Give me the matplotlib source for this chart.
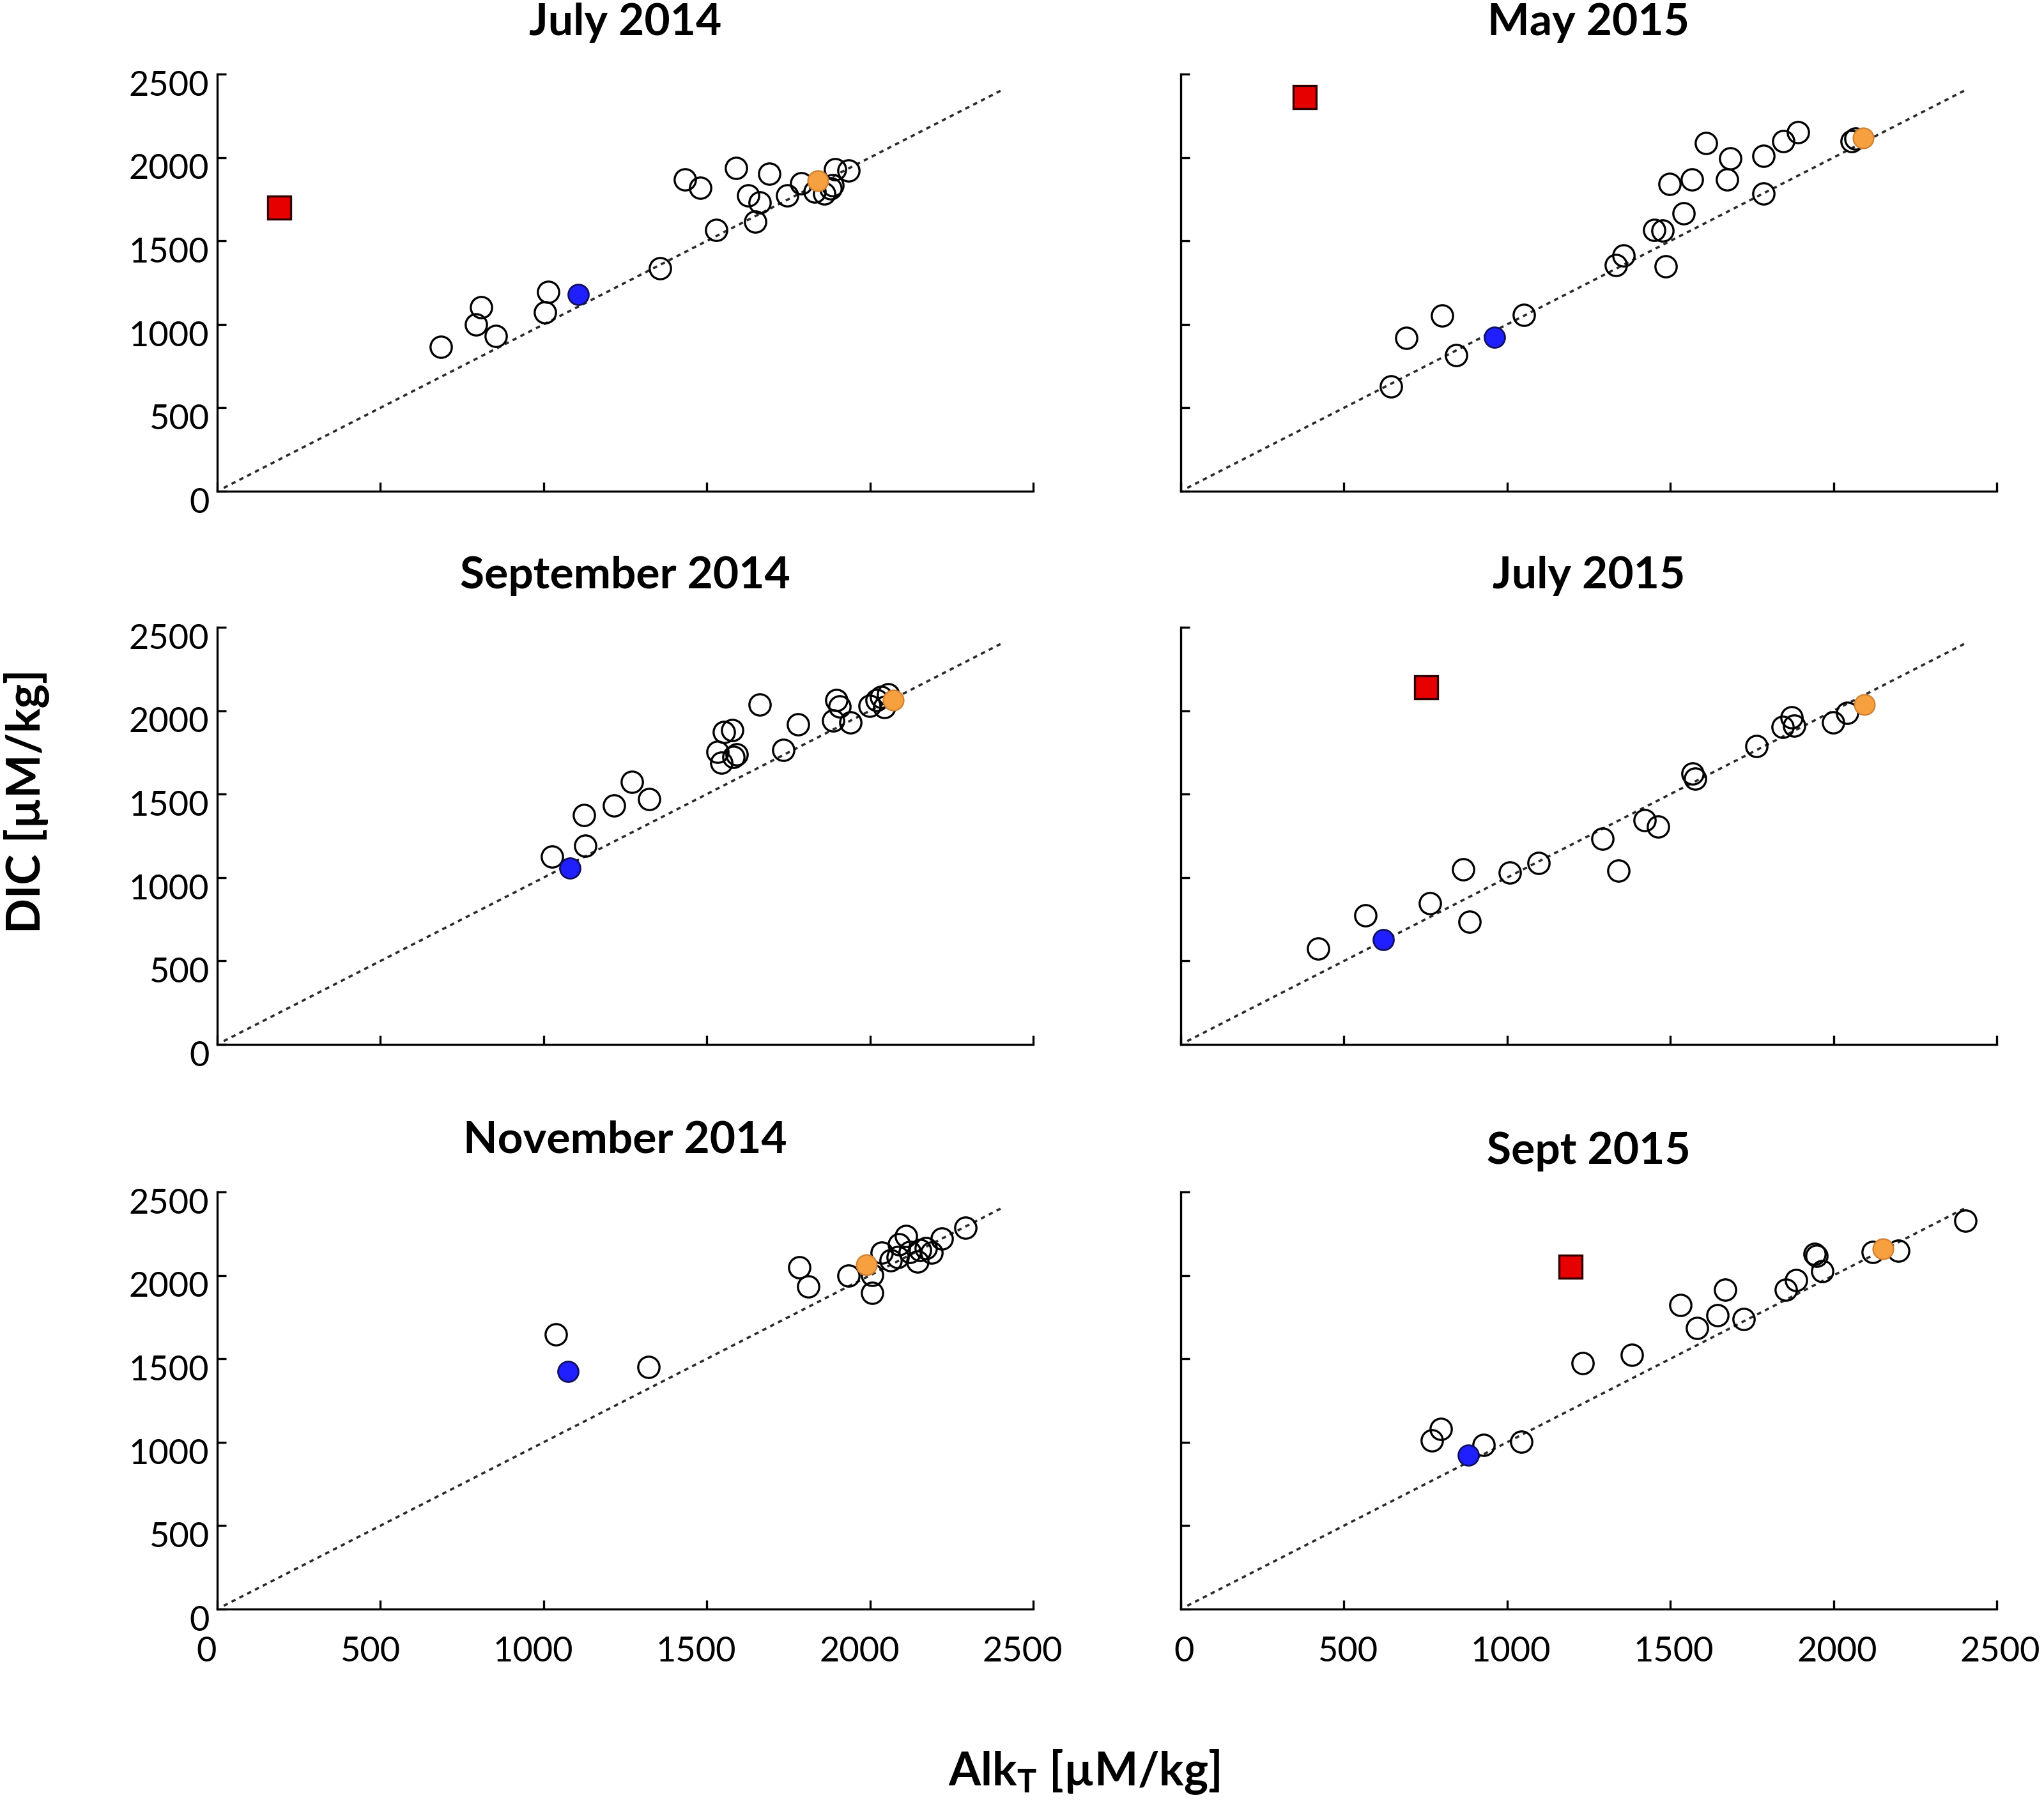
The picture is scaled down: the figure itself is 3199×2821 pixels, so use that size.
import matplotlib
matplotlib.use("Agg")
import matplotlib.pyplot as plt
from matplotlib.transforms import ScaledTranslation

plt.rcParams['font.family'] = ['Lato', 'DejaVu Sans']
plt.rcParams['mathtext.fontset'] = 'custom'
plt.rcParams['mathtext.rm'] = 'Lato'
plt.rcParams['mathtext.bf'] = 'Lato:bold'

# ---- data (AlkT, DIC in uM/kg) ----
jul14_alk = [685, 792, 809, 854, 1004, 1014, 1356, 1434, 1481, 1529, 1589, 1626, 1648, 1662,
             1691, 1746, 1789, 1830, 1860, 1879, 1886, 1893, 1935]
jul14_dic = [867, 998, 1102, 932, 1072, 1196, 1338, 1869, 1817, 1566, 1938, 1773, 1614, 1732,
             1904, 1773, 1844, 1795, 1785, 1815, 1834, 1930, 1923]
jul14_blue = (1107, 1178)
jul14_orange = (1840, 1860)
jul14_red = (190, 1700)

may15_alk = [645, 691, 801, 843, 1052, 1334, 1356, 1450, 1476, 1486, 1498, 1540, 1566, 1609,
             1673, 1683, 1785, 1785, 1847, 1891, 2055, 2067]
may15_dic = [627, 917, 1054, 817, 1058, 1356, 1412, 1567, 1563, 1346, 1843, 1667, 1869, 2087,
             1867, 1993, 1783, 2009, 2097, 2153, 2099, 2113]
may15_blue = (962, 921)
may15_orange = (2091, 2119)
may15_red = (379, 2364)

sep14_alk = [1025, 1128, 1123, 1216, 1270, 1323, 1533, 1545, 1553, 1578, 1582, 1591, 1663, 1735,
             1780, 1887, 1897, 1907, 1940, 1998, 2021, 2035, 2043, 2056]
sep14_dic = [1126, 1192, 1376, 1431, 1575, 1469, 1752, 1687, 1872, 1882, 1721, 1738, 2037, 1766,
             1918, 1942, 2063, 2026, 1930, 2028, 2063, 2083, 2022, 2099]
sep14_blue = (1080, 1055)
sep14_orange = (2072, 2063)

jul15_alk = [421, 565, 763, 865, 885, 1008, 1096, 1292, 1342, 1422, 1462, 1569, 1575, 1763,
             1845, 1871, 1879, 1999, 2041]
jul15_dic = [574, 774, 845, 1049, 734, 1029, 1089, 1232, 1043, 1344, 1304, 1625, 1591, 1788,
             1902, 1962, 1912, 1928, 1986]
jul15_blue = (621, 628)
jul15_orange = (2095, 2037)
jul15_red = (751, 2139)

nov14_alk = [1037, 1321, 1784, 1811, 1934, 2006, 2006, 2037, 2064, 2085, 2089, 2111, 2123, 2146,
             2154, 2171, 2189, 2220, 2292]
nov14_dic = [1648, 1450, 2048, 1935, 2000, 2004, 1896, 2135, 2091, 2109, 2185, 2235, 2141, 2083,
             2152, 2163, 2135, 2222, 2287]
nov14_blue = (1074, 1426)
nov14_orange = (1990, 2065)

sep15_alk = [769, 797, 928, 1044, 1232, 1382, 1530, 1582, 1644, 1668, 1725, 1853, 1885, 1943,
             1947, 1965, 2121, 2199, 2404]
sep15_dic = [1011, 1080, 985, 1004, 1474, 1522, 1822, 1685, 1761, 1913, 1739, 1913, 1972, 2130,
             2117, 2026, 2141, 2148, 2326]
sep15_blue = (881, 924)
sep15_orange = (2151, 2161)
sep15_red = (1194, 2052)

ticks = [0, 500, 1000, 1500, 2000, 2500]
one_to_one = [20, 2400]

panels = [
    # title, row, col, alk, dic, blue, orange, red, title pad
    ("July 2014", 0, 0, jul14_alk, jul14_dic, jul14_blue, jul14_orange, jul14_red, 22),
    ("May 2015", 0, 1, may15_alk, may15_dic, may15_blue, may15_orange, may15_red, 22),
    ("September 2014", 1, 0, sep14_alk, sep14_dic, sep14_blue, sep14_orange, None, 22),
    ("July 2015", 1, 1, jul15_alk, jul15_dic, jul15_blue, jul15_orange, jul15_red, 22),
    ("November 2014", 2, 0, nov14_alk, nov14_dic, nov14_blue, nov14_orange, None, 22),
    ("Sept 2015", 2, 1, sep15_alk, sep15_dic, sep15_blue, sep15_orange, sep15_red, 16),
]

W, H = 3199, 2821
fig = plt.figure(figsize=(W / 200, H / 200), dpi=200)

col_left = [340, 1848]
row_top = [116, 982, 1866]
ax_w, ax_h = 1277, 653

for title, r, c, alk, dic, blue, orange, red, tpad in panels:
    ax = fig.add_axes([col_left[c] / W, 1 - (row_top[r] + ax_h) / H, ax_w / W, ax_h / H])
    ax.plot(one_to_one, one_to_one, color='#2a2a2a', lw=1.3, ls=(0, (1.9, 1.9)), zorder=1)
    ax.plot(alk, dic, 'o', ms=12, mfc='none', mec='black', mew=1.2, zorder=2)
    ax.plot(*blue, 'o', ms=11.5, mfc='#1f1fff', mec='#101060', mew=1.0, zorder=3)
    ax.plot(*orange, 'o', ms=11.5, mfc='#f7a040', mec='#d08030', mew=0.8, zorder=3)
    if red is not None:
        ax.plot(*red, 's', ms=13, mfc='#e60000', mec='#300000', mew=1.2, zorder=4)

    ax.set_xlim(0, 2500)
    ax.set_ylim(0, 2500)
    ax.set_xticks(ticks)
    ax.set_yticks(ticks)
    ax.spines['top'].set_visible(False)
    ax.spines['right'].set_visible(False)
    for s in ('left', 'bottom'):
        ax.spines[s].set_linewidth(1.2)
    ax.tick_params(direction='in', length=5, width=1.2, labelsize=19.5)
    ax.tick_params(axis='y', pad=4.5)
    ax.tick_params(axis='x', pad=15)
    if c == 1:
        ax.tick_params(axis='y', labelleft=False)
    else:
        for lab in ax.get_yticklabels():
            lab.set_transform(lab.get_transform() + ScaledTranslation(0, -5 / 72, fig.dpi_scale_trans))
    if r < 2:
        ax.tick_params(axis='x', labelbottom=False)
    else:
        dx = -6 if c == 0 else 2
        for lab in ax.get_xticklabels():
            lab.set_transform(lab.get_transform() + ScaledTranslation(dx / 72, 0, fig.dpi_scale_trans))
    ax.set_title(title, fontsize=25, fontweight='bold', pad=tpad)

fig.text(41 / W, 1 - 1254 / H, "DIC [µM/kg]", rotation=90, ha='center', va='center',
         fontsize=26, fontweight='bold')
fig.text(1697 / W, 1 - 2795 / H, r"Alk$_\mathbf{T}$ [µM/kg]", ha='center', va='baseline',
         fontsize=26, fontweight='bold')

fig.savefig("out.png", dpi=200)
